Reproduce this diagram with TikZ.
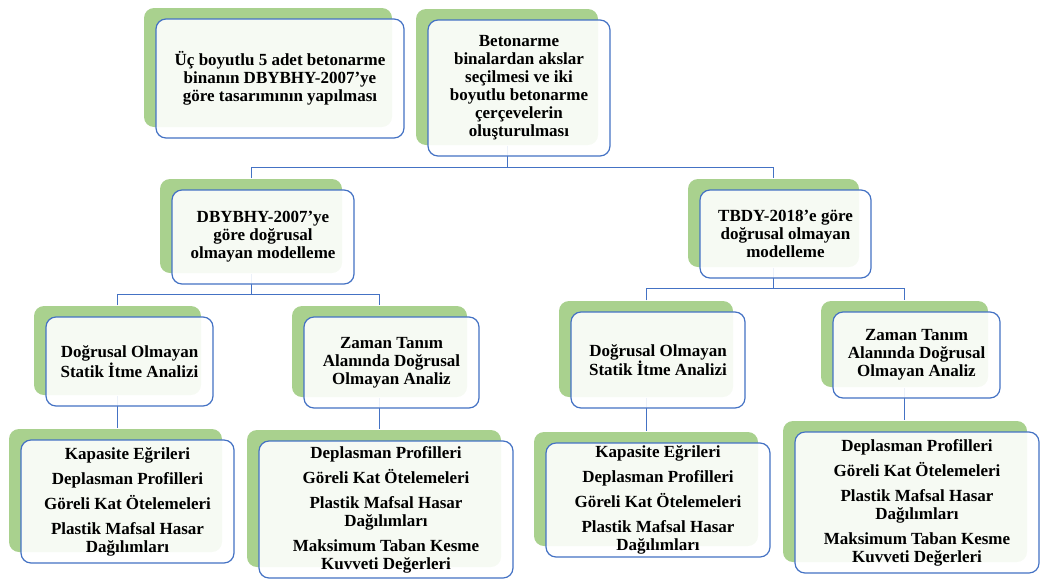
\documentclass[tikz,border=0pt]{standalone}
\usepackage{fontspec}
\setmainfont{Liberation Serif}
\usetikzlibrary{shadows}
\pgfdeclarelayer{background}
\pgfsetlayers{background,main}
\definecolor{cardgreen}{HTML}{A9D18E}
\definecolor{cardblue}{HTML}{4472C4}

\begin{document}
\begin{tikzpicture}[x=1pt, y=-1pt,
  card/.style={draw=cardblue, line width=1.2pt, rounded corners=10pt,
    fill=white, fill opacity=0.9, text opacity=1, align=center, inner sep=2pt,
    font=\bfseries\fontsize{17}{18}\selectfont,
    general shadow={fill=cardgreen, fill opacity=1, shadow xshift=-12pt, shadow yshift=11pt}},
  link/.style={draw=cardblue, line width=1pt}]
  \useasboundingbox (0,0) rectangle (1043,579);

  \node[card, minimum width=248pt, minimum height=119pt] (tasarim) at (280,78.5)
    {Üç boyutlu 5 adet betonarme\\binanın DBYBHY-2007’ye\\göre tasarımının yapılması};
  \node[card, minimum width=182pt, minimum height=136pt] (aks) at (519,88)
    {Betonarme\\binalardan akslar\\seçilmesi ve iki\\boyutlu betonarme\\çerçevelerin\\oluşturulması};
  \node[card, minimum width=182pt, minimum height=94pt] (dbybhy) at (263,237)
    {DBYBHY-2007’ye\\göre doğrusal\\olmayan modelleme};
  \node[card, minimum width=171pt, minimum height=88pt] (tbdy) at (785.5,234)
    {TBDY-2018’e göre\\doğrusal olmayan\\modelleme};

  \node[card, minimum width=167pt, minimum height=89pt] (itme1) at (129.5,361.5)
    {Doğrusal Olmayan\\Statik İtme Analizi};
  \node[card, minimum width=175pt, minimum height=91pt] (zaman1) at (391.5,362.5)
    {Zaman Tanım\\Alanında Doğrusal\\Olmayan Analiz};
  \node[card, minimum width=174pt, minimum height=96pt] (itme2) at (658,360)
    {Doğrusal Olmayan\\Statik İtme Analizi};
  \node[card, minimum width=167pt, minimum height=86pt] (zaman2) at (916.5,355)
    {Zaman Tanım\\Alanında Doğrusal\\Olmayan Analiz};

  \node[card, minimum width=213pt, minimum height=123pt] (sonuc1) at (127.5,501.5)
    {Kapasite Eğrileri\\[7pt]Deplasman Profilleri\\[7pt]Göreli Kat Ötelemeleri\\[7pt]Plastik Mafsal Hasar\\Dağılımları};
  \node[card, minimum width=254pt, minimum height=137pt] (sonuc2) at (386,509.5)
    {Deplasman Profilleri\\[7pt]Göreli Kat Ötelemeleri\\[7pt]Plastik Mafsal Hasar\\Dağılımları\\[7pt]Maksimum Taban Kesme\\Kuvveti Değerleri};
  \node[card, minimum width=224pt, minimum height=114pt] (sonuc3) at (658,500)
    {Kapasite Eğrileri\\[7pt]Deplasman Profilleri\\[7pt]Göreli Kat Ötelemeleri\\[7pt]Plastik Mafsal Hasar\\Dağılımları};
  \node[card, minimum width=244pt, minimum height=141pt] (sonuc4) at (917,502.5)
    {Deplasman Profilleri\\[7pt]Göreli Kat Ötelemeleri\\[7pt]Plastik Mafsal Hasar\\Dağılımları\\[7pt]Maksimum Taban Kesme\\Kuvveti Değerleri};

  \foreach \n in {aks,dbybhy,tbdy,itme1,zaman1,itme2,zaman2,sonuc1,sonuc2,sonuc3,sonuc4} {
    \coordinate (\n-top) at ([shift={(-12pt,11pt)}]\n.north);
    \coordinate (\n-bot) at ([shift={(-12pt,11pt)}]\n.south);
  }

  \begin{pgfonlayer}{background}
    \draw[link] (aks-bot) -- ++(0,22) coordinate (bus1);
    \draw[link] (dbybhy-top) |- (bus1) -| (tbdy-top);
    \draw[link] (dbybhy-bot) -- ++(0,21) coordinate (bus2);
    \draw[link] (itme1-top) |- (bus2) -| (zaman1-top);
    \draw[link] (tbdy-bot) -- ++(0,21) coordinate (bus3);
    \draw[link] (itme2-top) |- (bus3) -| (zaman2-top);
    \draw[link] (itme1-bot) -- (itme1-bot |- sonuc1-top);
    \draw[link] (zaman1-bot) -- (zaman1-bot |- sonuc2-top);
    \draw[link] (itme2-bot) -- (itme2-bot |- sonuc3-top);
    \draw[link] (zaman2-bot) -- (zaman2-bot |- sonuc4-top);
  \end{pgfonlayer}
\end{tikzpicture}
\end{document}
